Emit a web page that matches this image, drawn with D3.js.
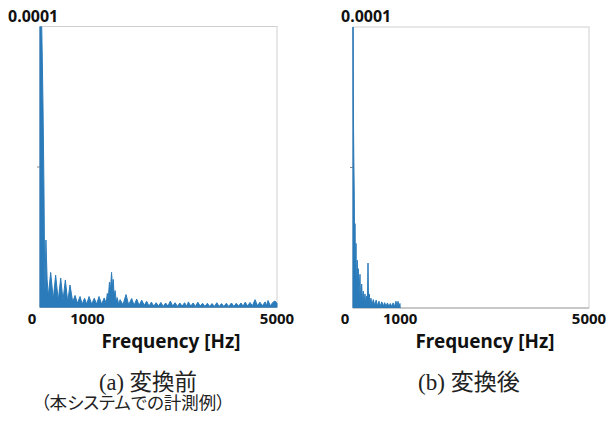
<!DOCTYPE html>
<html><head><meta charset="utf-8">
<script src="https://cdn.jsdelivr.net/npm/d3@7/dist/d3.min.js"></script>
<style>body{margin:0;background:#fff} .cap{font-feature-settings:"palt";}</style>
</head><body>
<svg id="c" width="613" height="434"></svg>
<script>
// amplitude values in units of 1e-6
const freqA = [0,20,36,49,63,75,85,95,105,125,150,175,225,280,330,385,437,485,535,585,633,690,740,790,845,890,940,985,1035,1090,1145,1195,1245,1300,1355,1395,1420,1440,1465,1485,1510,1530,1545,1565,1585,1610,1630,1660,1690,1750,1815,1870,1934,1985,2040,2090,2146,2200,2250,2300,2350,2400,2450,2500,2550,2600,2650,2700,2750,2800,2850,2900,2950,3000,3050,3100,3130,3180,3230,3280,3330,3380,3430,3480,3530,3580,3630,3680,3730,3780,3830,3880,3930,3980,4040,4090,4140,4190,4240,4285,4330,4380,4430,4480,4537,4590,4640,4690,4750,4780,4811,4860,4910,4958,5000];
const ampA  = [105,105,100,88,72,55,40,18,5,24,10,4,12.5,3,11.5,2.5,10.5,2.5,9.8,2,8,2,4.3,1.5,3.9,1.2,3.3,1.2,3.9,1.2,3.3,1.2,3.9,1.2,3.4,1.5,5,3,9,6,12.5,7,10,4,6,2,3.5,1,2.8,1,4.6,1,3.2,0.8,3,0.8,2.6,0.8,2.2,0.5,1.9,0.5,1.7,0.5,1.8,0.4,1.6,0.5,2.3,0.5,1.7,0.4,1.6,0.5,1.7,0.4,2.0,0.5,1.6,0.4,1.9,0.5,1.5,0.4,1.5,0.4,1.4,0.4,1.7,0.4,1.4,0.4,1.5,0.4,1.6,0.4,1.5,0.5,1.6,0.5,1.9,0.5,1.8,0.6,2.8,0.6,1.9,0.6,2.0,0.7,2.5,0.6,1.8,2.3,1.5];

const freqB = [0,8,18,28,35,42,50,64,72,91,100,112,125,148,160,184,200,218,235,254,270,292,305,318,330,345,360,380,400,430,460,490,520,550,580,610,640,670,700,730,760,790,820,850,880,910,935,955,975,995,1000];
const ampB  = [105,70,52,39,12,30,10,23,6,17,5,14,4,12,3,8.5,2.5,6,2,5,1.5,4.3,1.5,16,1.5,5,1.2,3.5,1,3,1,2.8,0.8,2.4,0.8,2.2,0.7,1.9,0.7,1.8,0.6,1.6,0.6,1.8,0.6,2.4,0.8,2.4,0.8,1.6,0];

const xDomain = [0, 5000];
const yDomain = [0, 100];
const xTickValues = [0, 1000, 5000];
const xTickLabels = ["0", "1000", "5000"];
const yMinorTicks = [50];
const yTopLabel = "0.0001";
const xTitle = "Frequency [Hz]";
const captionA = ["(a) 変換前", "（本システムでの計測例）"];
const captionB = ["(b) 変換後"];

const svg = d3.select("#c");
const sans = "'Noto Sans', 'DejaVu Sans', sans-serif";
const serif = "'Liberation Serif', 'Noto Sans CJK JP', serif";
const lineColor = "#2b7bba";

function fitText(sel, target) {
  const w = sel.node().getComputedTextLength();
  const fs = parseFloat(sel.attr("font-size"));
  sel.attr("font-size", fs * target / w);
}

function panel(cfg, freq, amp, idx) {
  const x = d3.scaleLinear().domain(xDomain).range([cfg.left, cfg.left + cfg.width]);
  const y = d3.scaleLinear().domain(yDomain).range([cfg.top + cfg.height, cfg.top]);
  const g = svg.append("g");
  const cid = "clip" + idx;
  svg.append("clipPath").attr("id", cid).append("rect")
    .attr("x", cfg.left - 1).attr("y", cfg.top).attr("width", cfg.width + 2).attr("height", cfg.height);

  // frame
  g.append("rect").attr("x", cfg.left).attr("y", cfg.top).attr("width", cfg.width).attr("height", cfg.height)
    .attr("fill", "none").attr("stroke", "#cfcfcf").attr("stroke-width", 1);
  g.append("line").attr("x1", cfg.left).attr("x2", cfg.left + cfg.width)
    .attr("y1", y(0)).attr("y2", y(0)).attr("stroke", "#a9a9a9").attr("stroke-width", 1.2);
  g.append("line").attr("x1", cfg.left).attr("x2", cfg.left)
    .attr("y1", cfg.top).attr("y2", y(0)).attr("stroke", "#8fa9bf").attr("stroke-width", 1);
  yMinorTicks.forEach(v => g.append("line").attr("x1", cfg.left - 3).attr("x2", cfg.left)
    .attr("y1", y(v)).attr("y2", y(v)).attr("stroke", "#888").attr("stroke-width", 1));

  // data: dense spectrum drawn as filled trace
  const pts = freq.map((f, i) => [f, amp[i]]);
  g.append("path").datum(pts).attr("clip-path", `url(#${cid})`)
    .attr("fill", lineColor).attr("stroke", lineColor).attr("stroke-width", 1).attr("stroke-linejoin", "round")
    .attr("d", d3.area().x(d => x(d[0])).y0(y(0)).y1(d => y(d[1])));

  // x tick labels
  xTickValues.forEach((v, i) => {
    g.append("text").attr("x", x(v) + (v === 0 ? -8 : 0)).attr("y", 323.5)
      .attr("text-anchor", "middle").attr("font-family", sans).attr("font-weight", "bold")
      .attr("font-size", 15).attr("fill", "#111").text(xTickLabels[i]);
  });
  // y top label
  g.append("text").attr("x", cfg.ylabX).attr("y", 21.5).attr("font-family", sans).attr("font-weight", "bold")
    .attr("font-size", 16).attr("fill", "#111").text(yTopLabel);
  // x title
  const t = g.append("text").attr("x", cfg.titleX).attr("y", 348).attr("text-anchor", "middle")
    .attr("font-family", sans).attr("font-weight", "bold").attr("font-size", 18).attr("fill", "#111").text(xTitle);
  fitText(t, 139);
  // caption
  cfg.caption.forEach((c, i) => {
    const ct = g.append("text").attr("class", "cap").attr("x", cfg.capX[i]).attr("y", cfg.capY[i]).attr("text-anchor", "middle")
      .attr("font-family", serif).attr("font-size", cfg.capFS[i]).attr("fill", "#222").text(c);
    if (cfg.capW[i]) fitText(ct, cfg.capW[i]);
  });
}

panel({left: 40, top: 26.5, width: 237, height: 281, ylabX: 8, titleX: 171, caption: captionA,
       capX: [148, 133], capY: [390, 409], capW: [98, 0], capFS: [17, 17.5]}, freqA, ampA, 0);
panel({left: 353, top: 27, width: 236, height: 281, ylabX: 341, titleX: 485, caption: captionB,
       capX: [469], capY: [390], capW: [102], capFS: [17]}, freqB, ampB, 1);
</script>
</body></html>
